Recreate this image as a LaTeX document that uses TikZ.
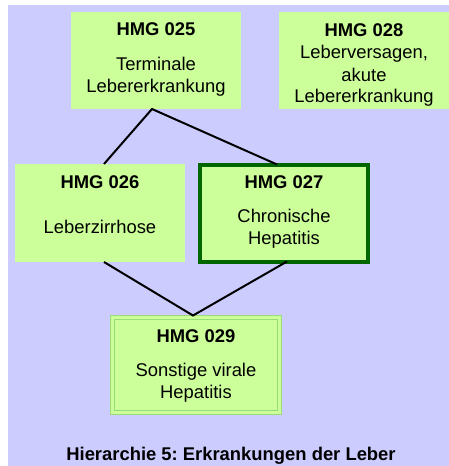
\documentclass[tikz,border=0pt]{standalone}
\usepackage{fontspec}
\setmainfont{Liberation Sans}
\frenchspacing
\definecolor{bgcol}{HTML}{CCCCFF}
\definecolor{boxcol}{HTML}{CCFF99}
\definecolor{darkgreen}{HTML}{006600}
\definecolor{lightline}{HTML}{99DD77}
\begin{document}
\begin{tikzpicture}[x=1pt,y=-1pt,
  box/.style={fill=boxcol, draw=none, minimum width=170pt, minimum height=97pt, inner sep=0pt, outer sep=0pt},
  txt/.style={anchor=base, inner sep=0pt, font=\fontsize{18.4pt}{22pt}\selectfont},
  ttl/.style={txt, font=\fontsize{18.4pt}{22pt}\selectfont\bfseries},
  conn/.style={line width=2pt, draw=black}]
\useasboundingbox (0,0) rectangle (449,466);
\fill[white] (0,0) rectangle (449,466);
\fill[bgcol] (8,5) rectangle (449,466);
% boxes
\node[box] (b025) at (156,60.5) {};
\node[box] (b028) at (364,60.5) {};
\node[box, minimum height=98pt] (b026) at (100,213) {};
\node[box, draw=darkgreen, line width=4pt, minimum width=168pt, minimum height=97pt] (b027) at (284,213) {};
\node[box, draw=lightline, line width=1pt, minimum width=171pt, minimum height=99pt] (b029) at (196,365) {};
\draw[lightline, line width=1pt] ([shift={(4pt,-4pt)}]b029.north west) rectangle ([shift={(-4pt,4pt)}]b029.south east);
% texts
\node[ttl] (t025) at (156,35) {HMG 025};
\node[txt] (t025a) at (156,70) {Terminale};
\node[txt] (t025b) at (156,92) {Lebererkrankung};
\node[ttl] (t028) at (364,36) {HMG 028};
\node[txt] (t028a) at (364,58) {Leberversagen,};
\node[txt] (t028b) at (364,81) {akute};
\node[txt] (t028c) at (364,102) {Lebererkrankung};
\node[ttl] (t026) at (100,188) {HMG 026};
\node[txt] (t026a) at (100,233) {Leberzirrhose};
\node[ttl] (t027) at (284,188) {HMG 027};
\node[txt] (t027a) at (284,222) {Chronische};
\node[txt] (t027b) at (284,244) {Hepatitis};
\node[ttl] (t029) at (196,342) {HMG 029};
\node[txt] (t029a) at (196,376) {Sonstige virale};
\node[txt] (t029b) at (196,398) {Hepatitis};
\node[ttl] (cap) at (231,460) {Hierarchie 5: Erkrankungen der Leber};
% connectors
\draw[conn] ([xshift=4pt]b026.north) -- ([xshift=-4pt]b025.south) -- ([xshift=-7pt]b027.north);
\draw[conn] ([xshift=4pt]b026.south) -- ([xshift=-3pt]b029.north) -- ([xshift=3pt]b027.south);
\end{tikzpicture}
\end{document}
